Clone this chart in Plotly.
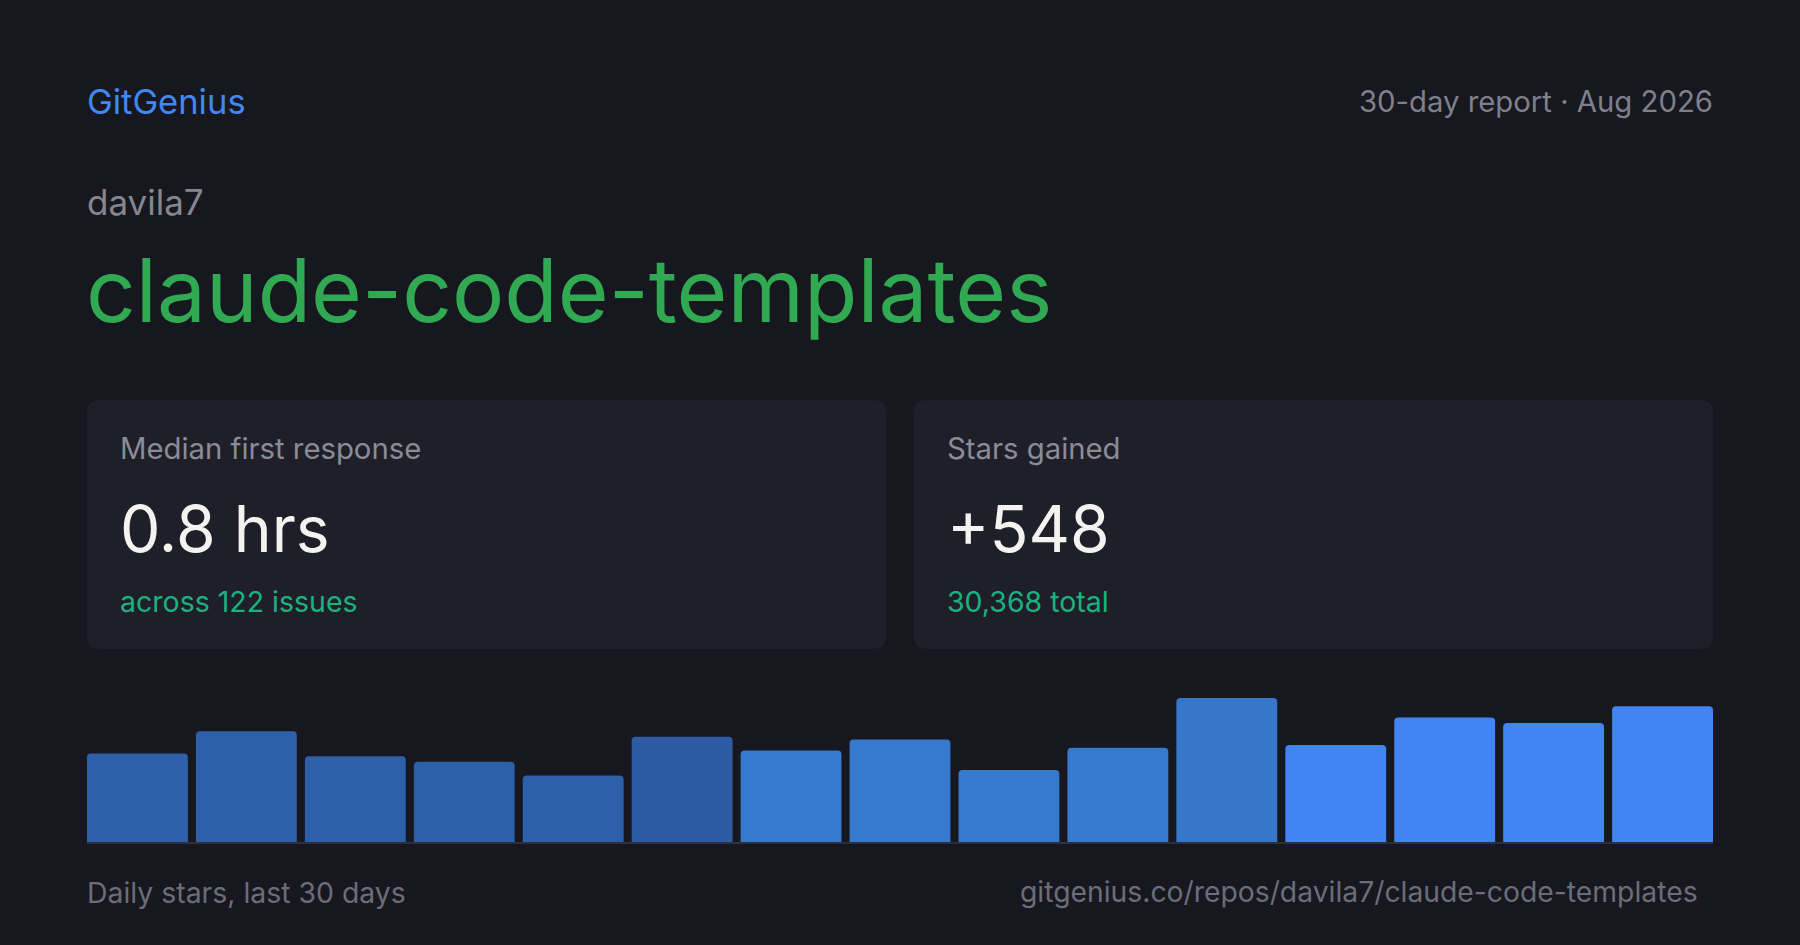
import plotly.graph_objects as go

W, H = 1800, 945

# two-day buckets over the last 30 days
periods = [f'Day {2 * i + 1}-{2 * i + 2}' for i in range(15)]
stars = [32, 40, 31, 29, 24, 38, 33, 37, 26, 34, 52, 35, 45, 43, 49]
bar_colors = ['#2e60aa', '#2e60aa', '#2e60aa', '#2e60aa', '#2e60aa', '#2d5ca4',
              '#3779cc', '#3779cc', '#3779cc', '#3779cc', '#3677c9',
              '#4185f4', '#4185f4', '#4185f4', '#4185f4']

repo_owner = 'davila7'
repo_name = 'claude-code-templates'
report_label = '30-day report · Aug 2026'
cards = [
    ('Median first response', '0.8 hrs', 'across 122 issues'),
    ('Stars gained', '+548', '30,368 total'),
]

BG = '#16171f'
CARD = '#1f1f2a'
FONT = 'Inter'


def px(x, y):
    # pixel position (top-left origin) -> paper fraction
    return x / W, 1 - y / H


def rounded_rect(x0, y0, x1, y1, r):
    rx, ry = r / W, r / H
    a0, b1 = px(x0, y0)
    a1, b0 = px(x1, y1)
    return (f'M{a0 + rx},{b1} L{a1 - rx},{b1} Q{a1},{b1} {a1},{b1 - ry} '
            f'L{a1},{b0 + ry} Q{a1},{b0} {a1 - rx},{b0} '
            f'L{a0 + rx},{b0} Q{a0},{b0} {a0},{b0 + ry} '
            f'L{a0},{b1 - ry} Q{a0},{b1} {a0 + rx},{b1} Z')


def label(x, y, text, size, color, anchor='left'):
    xf, yf = px(x, y)
    return dict(x=xf, y=yf, xref='paper', yref='paper', text=text, showarrow=False,
                xanchor=anchor, yanchor='middle',
                font=dict(family=FONT, size=size, color=color))


fig = go.Figure(go.Bar(
    x=periods, y=stars,
    marker=dict(color=bar_colors, cornerradius=4, line=dict(width=0)),
    hoverinfo='skip',
))

gap = 0.074
fig.update_layout(
    width=W, height=H,
    margin=dict(l=0, r=0, t=0, b=0),
    paper_bgcolor=BG, plot_bgcolor='rgba(0,0,0,0)',
    showlegend=False,
    bargap=gap,
    xaxis=dict(domain=[87 / W, 1713 / W], range=[-0.5 + gap / 2, len(stars) - 0.5 - gap / 2],
               showticklabels=False, showgrid=False, zeroline=False, ticks='',
               showline=True, linecolor='#2e2f3c', linewidth=2, fixedrange=True),
    yaxis=dict(domain=[(H - 842) / H, (H - 698) / H], range=[0, max(stars)],
               visible=False, fixedrange=True),
)

shapes = []
annotations = [
    label(85, 101, 'GitGenius', 34.5, '#4287f5'),
    label(1714.5, 101, report_label, 29.3, '#7e808b', 'right'),
    label(85, 202, repo_owner, 35, '#85878f'),
    label(84, 290, repo_name, 87.3, '#31a852'),
    label(85, 892, 'Daily stars, last 30 days', 28.4, '#6b6d78'),
    label(1699.5, 892, f'gitgenius.co/repos/{repo_owner}/{repo_name}', 28.3, '#6b6d78', 'right'),
]
card_w = (1626 - 28) / 2
for i, (title, value, note) in enumerate(cards):
    x0 = 87 + i * (card_w + 28)
    shapes.append(dict(type='path', xref='paper', yref='paper', layer='below',
                       path=rounded_rect(x0, 400, x0 + card_w, 649, 13),
                       fillcolor=CARD, line=dict(width=0)))
    annotations.append(label(x0 + 31, 449, title, 29.3, '#8a8c97'))
    annotations.append(label(x0 + 31, 528, value, 64.2, '#f3f3ef'))
    annotations.append(label(x0 + 31, 601, note, 28.5, '#1bb27f'))

fig.update_layout(shapes=shapes, annotations=annotations)

fig.write_html('out.html', config={'displayModeBar': False},
               post_script="document.body.style.margin='0';document.body.style.background='#16171f';")
